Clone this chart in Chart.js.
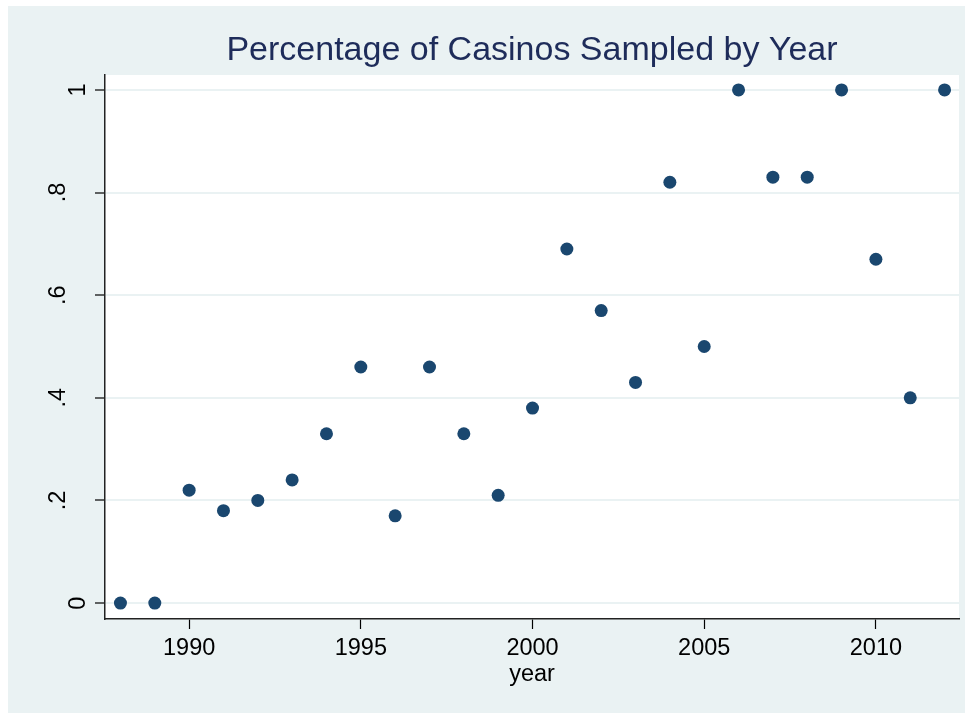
<!DOCTYPE html>
<html>
<head>
<meta charset="utf-8">
<script src="https://cdn.jsdelivr.net/npm/chart.js@4/dist/chart.umd.min.js"></script>
<style>
  html, body { margin: 0; padding: 0; background: #ffffff; }
  #wrap { width: 973px; height: 713px; }
</style>
</head>
<body>
<div id="wrap"><canvas id="c" width="973" height="713"></canvas></div>
<script>
// Share of casinos sampled in each survey year
const years = [1988, 1989, 1990, 1991, 1992, 1993, 1994, 1995, 1996, 1997, 1998, 1999,
               2000, 2001, 2002, 2003, 2004, 2005, 2006, 2007, 2008, 2009, 2010, 2011, 2012];
const shareSampled = [0, 0, 0.22, 0.18, 0.20, 0.24, 0.33, 0.46, 0.17, 0.46, 0.33, 0.21,
                      0.38, 0.69, 0.57, 0.43, 0.82, 0.50, 1, 0.83, 0.83, 1, 0.67, 0.40, 1];

const xTickValues = [1990, 1995, 2000, 2005, 2010];
const yTickValues = [0, 0.2, 0.4, 0.6, 0.8, 1];
const yTickLabels = ['0', '.2', '.4', '.6', '.8', '1'];

const FONT = "'Liberation Sans', Arial, Helvetica, sans-serif";
const OUTER_BG = '#EAF2F3';

// Page and plot-region backgrounds
const backdrop = {
  id: 'backdrop',
  beforeDraw(chart) {
    const { ctx, chartArea: a } = chart;
    ctx.save();
    ctx.fillStyle = '#ffffff';
    ctx.fillRect(0, 0, chart.width, chart.height);
    ctx.fillStyle = OUTER_BG;
    ctx.fillRect(8, 6, 957, 707);
    ctx.fillStyle = '#ffffff';
    ctx.fillRect(a.left, a.top, a.right - a.left, a.bottom - a.top);
    ctx.restore();
  }
};

// Vertical (rotated) y tick labels
const rotatedYLabels = {
  id: 'rotatedYLabels',
  afterDraw(chart) {
    const { ctx } = chart;
    const y = chart.scales.y;
    ctx.save();
    ctx.fillStyle = '#000000';
    ctx.font = `23.5px ${FONT}`;
    ctx.textAlign = 'center';
    ctx.textBaseline = 'alphabetic';
    yTickValues.forEach((v, i) => {
      const label = yTickLabels[i];
      const py = y.getPixelForValue(v);
      // labels with a leading decimal point sit further from the axis
      const gap = label.startsWith('.') ? 40 : 20;
      ctx.save();
      ctx.translate(y.right - gap, py);
      ctx.rotate(-Math.PI / 2);
      ctx.fillText(label, 0, 0);
      ctx.restore();
    });
    ctx.restore();
  }
};

new Chart(document.getElementById('c'), {
  type: 'scatter',
  data: {
    datasets: [{
      data: years.map((yr, i) => ({ x: yr, y: shareSampled[i] })),
      pointRadius: 6.5,
      pointHoverRadius: 6.5,
      pointBackgroundColor: '#1A476F',
      pointBorderWidth: 0,
      showLine: false
    }]
  },
  options: {
    responsive: false,
    animation: false,
    devicePixelRatio: 1,
    layout: { padding: { left: 0, right: 14, top: 0, bottom: 0 } },
    plugins: {
      legend: { display: false },
      tooltip: { enabled: false },
      title: {
        display: true,
        fullSize: false,
        text: 'Percentage of Casinos Sampled by Year',
        color: '#1E2C5A',
        font: { family: FONT, size: 34, weight: 'normal', lineHeight: 1.2 },
        padding: { top: 30, bottom: 4.2 }
      }
    },
    scales: {
      x: {
        type: 'linear',
        position: 'bottom',
        min: 1987.55,
        max: 2012.42,
        afterBuildTicks: s => { s.ticks = xTickValues.map(v => ({ value: v })); },
        afterFit: s => { s.height = 94; },
        ticks: {
          color: '#000000',
          font: { family: FONT, size: 23.5 },
          padding: 5,
          maxRotation: 0,
          autoSkip: false,
          callback: v => String(v)
        },
        grid: {
          drawOnChartArea: false,
          drawTicks: true,
          tickLength: 10,
          tickColor: '#000000',
          tickWidth: 1.2
        },
        border: { display: true, color: '#222222', width: 1.5 },
        title: {
          display: true,
          text: 'year',
          color: '#000000',
          font: { family: FONT, size: 23.5, lineHeight: 1.2 },
          padding: { top: 0, bottom: 24.4 }
        }
      },
      y: {
        type: 'linear',
        position: 'left',
        min: -0.031,
        max: 1.029,
        afterBuildTicks: s => { s.ticks = yTickValues.map(v => ({ value: v })); },
        afterFit: s => { s.width = 105; },
        ticks: { display: false },
        grid: {
          color: OUTER_BG,
          lineWidth: 2,
          drawTicks: true,
          tickLength: 10,
          tickColor: '#000000',
          tickWidth: 1.2
        },
        border: { display: true, color: '#222222', width: 1.5 }
      }
    }
  },
  plugins: [backdrop, rotatedYLabels]
});
</script>
</body>
</html>
